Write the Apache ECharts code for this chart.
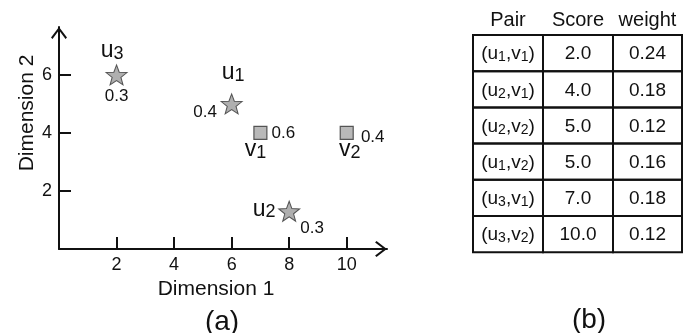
<!DOCTYPE html>
<html>
<head>
<meta charset="utf-8">
<script src="https://cdn.jsdelivr.net/npm/echarts@6/dist/echarts.min.js"></script>
<style>
html,body{margin:0;padding:0;background:#fff;}
#chart{width:687px;height:333px;}
</style>
</head>
<body>
<div id="chart"></div>
<script>
// ---- data ----
const uNames = ['u1', 'u2', 'u3'];
const uX = [6, 8, 2];
const uY = [5, 1.3, 6];
const uWeights = [0.4, 0.3, 0.3];

const vNames = ['v1', 'v2'];
const vX = [7, 10];
const vY = [4, 4];
const vWeights = [0.6, 0.4];

const xTickValues = [2, 4, 6, 8, 10];
const yTickValues = [2, 4, 6];

const tableHeaders = ['Pair', 'Score', 'weight'];
const pairs = [['u1', 'v1'], ['u2', 'v1'], ['u2', 'v2'], ['u1', 'v2'], ['u3', 'v1'], ['u3', 'v2']];
const scores = [2.0, 4.0, 5.0, 5.0, 7.0, 10.0];
const pairWeights = [0.24, 0.18, 0.12, 0.16, 0.18, 0.12];

// ---- styles / placement ----
const FONT = 'Liberation Sans, Arial, Helvetica, sans-serif';
const TXT = '#111';
const namePos = { u1: [1.5, -31], u2: [-25, -2], u3: [-4.5, -24], v1: [-5, 17], v2: [3, 17] };
const weightPos = { u1: [-26.5, 8], u2: [23, 17], u3: [0, 21], v1: [23, 0], v2: [26, 4] };

const STAR = 'path://M50,0 L62.3,33 L97.6,34.5 L70,56.5 L79.4,90.5 L50,71 L20.6,90.5 L30,56.5 L2.4,34.5 L37.7,33 Z';
const CHEVRON = 'path://M8,0 L16,10.4 L14.5,11.8 L8,3.2 L1.5,11.8 L0,10.4 Z';

const nameRich = {
  m: { fontSize: 23, fontFamily: FONT, color: TXT, lineHeight: 24 },
  s: { fontSize: 18, fontFamily: FONT, color: TXT, lineHeight: 14, verticalAlign: 'bottom' }
};
function subLabel(n) { return '{m|' + n[0] + '}{s|' + n.slice(1) + '}'; }

function pointItems(names, xs, ys) {
  return names.map((n, i) => ({ name: n, value: [xs[i], ys[i]], label: { offset: namePos[n] } }));
}
function weightItems(names, xs, ys, ws) {
  return names.map((n, i) => ({ name: n, value: [xs[i], ys[i], ws[i]], label: { offset: weightPos[n] } }));
}

// ---- table (graphic) ----
const colEdges = [473, 543, 613, 682];
const tableTop = 35, rowH = 36.2, headerY = 20;
const graphics = [];
tableHeaders.forEach((h, c) => {
  graphics.push({
    type: 'text', x: (colEdges[c] + colEdges[c + 1]) / 2, y: headerY,
    style: { text: h, fill: TXT, fontSize: 20, fontFamily: FONT, align: 'center', verticalAlign: 'middle' }
  });
});
const cellRich = {
  m: { fontSize: 19, fontFamily: FONT, fill: TXT, color: TXT, lineHeight: 21 },
  s: { fontSize: 14, fontFamily: FONT, fill: TXT, color: TXT, lineHeight: 11, verticalAlign: 'bottom' }
};
pairs.forEach((p, r) => {
  const y0 = tableTop + r * rowH;
  const texts = [
    '{m|(' + p[0][0] + '}{s|' + p[0].slice(1) + '}{m|,' + p[1][0] + '}{s|' + p[1].slice(1) + '}{m|)}',
    '{m|' + scores[r].toFixed(1) + '}',
    '{m|' + pairWeights[r].toFixed(2) + '}'
  ];
  for (let c = 0; c < 3; c++) {
    graphics.push({
      type: 'rect',
      shape: { x: colEdges[c], y: y0, width: colEdges[c + 1] - colEdges[c], height: rowH },
      style: { fill: 'none', stroke: '#111', lineWidth: 2 }
    });
    graphics.push({
      type: 'text', x: (colEdges[c] + colEdges[c + 1]) / 2, y: y0 + rowH / 2 + 1,
      style: { text: texts[c], rich: cellRich, fill: TXT, align: 'center', verticalAlign: 'middle' }
    });
  }
});
graphics.push({
  type: 'text', x: 222, y: 322,
  style: { text: '(a)', fill: TXT, fontSize: 28, fontFamily: FONT, align: 'center', verticalAlign: 'middle' }
});
graphics.push({
  type: 'text', x: 589, y: 320,
  style: { text: '(b)', fill: TXT, fontSize: 28, fontFamily: FONT, align: 'center', verticalAlign: 'middle' }
});

const axisCommon = {
  type: 'value',
  min: 0,
  splitLine: { show: false },
  axisLine: {
    show: true,
    lineStyle: { color: '#111', width: 2 },
    symbol: ['none', CHEVRON],
    symbolSize: [16, 12],
    symbolOffset: [0, -6]
  },
  axisTick: { show: true, inside: true, length: 12, lineStyle: { color: '#111', width: 2 } },
  nameLocation: 'middle'
};

const labelBase = { show: true, position: 'inside', color: TXT, textBorderWidth: 0, opacity: 1 };

const option = {
  animation: false,
  backgroundColor: '#fff',
  grid: { left: 59, top: 27, width: 328, height: 222 },
  xAxis: Object.assign({}, axisCommon, {
    max: 11.4,
    axisTick: Object.assign({}, axisCommon.axisTick, { customValues: xTickValues }),
    axisLabel: { customValues: xTickValues, margin: 7, fontSize: 18, fontFamily: FONT, color: TXT },
    name: 'Dimension 1',
    nameGap: 25,
    nameTextStyle: { fontSize: 21, fontFamily: FONT, color: TXT, padding: [0, 14, 0, 0] }
  }),
  yAxis: Object.assign({}, axisCommon, {
    max: 7.65,
    axisTick: Object.assign({}, axisCommon.axisTick, { customValues: yTickValues }),
    axisLabel: { customValues: yTickValues, margin: 7, fontSize: 18, fontFamily: FONT, color: TXT },
    name: 'Dimension 2',
    nameGap: 20,
    nameTextStyle: { fontSize: 21, fontFamily: FONT, color: TXT, padding: [0, 0, 0, 50] }
  }),
  graphic: graphics,
  series: [
    {
      type: 'scatter',
      name: 'u',
      symbol: STAR,
      symbolSize: [21, 20],
      itemStyle: { color: '#9b9b9b', borderColor: '#333', borderWidth: 1 },
      label: Object.assign({}, labelBase, { formatter: p => subLabel(p.name), rich: nameRich }),
      emphasis: { disabled: true },
      data: pointItems(uNames, uX, uY),
      z: 3
    },
    {
      type: 'scatter',
      name: 'v',
      symbol: 'rect',
      symbolSize: 13,
      itemStyle: { color: '#a8a8a8', borderColor: '#333', borderWidth: 1.2 },
      label: Object.assign({}, labelBase, { formatter: p => subLabel(p.name), rich: nameRich }),
      emphasis: { disabled: true },
      data: pointItems(vNames, vX, vY),
      z: 3
    },
    {
      type: 'scatter',
      name: 'uw',
      symbolSize: 1,
      itemStyle: { color: '#fff', opacity: 1 },
      label: Object.assign({}, labelBase, { fontSize: 17, fontFamily: FONT, formatter: p => String(p.value[2]) }),
      emphasis: { disabled: true },
      data: weightItems(uNames, uX, uY, uWeights),
      z: 2
    },
    {
      type: 'scatter',
      name: 'vw',
      symbolSize: 1,
      itemStyle: { color: '#fff', opacity: 1 },
      label: Object.assign({}, labelBase, { fontSize: 17, fontFamily: FONT, formatter: p => String(p.value[2]) }),
      emphasis: { disabled: true },
      data: weightItems(vNames, vX, vY, vWeights),
      z: 2
    }
  ]
};

const chart = echarts.init(document.getElementById('chart'), null, { renderer: 'canvas' });
chart.setOption(option);
</script>
</body>
</html>
